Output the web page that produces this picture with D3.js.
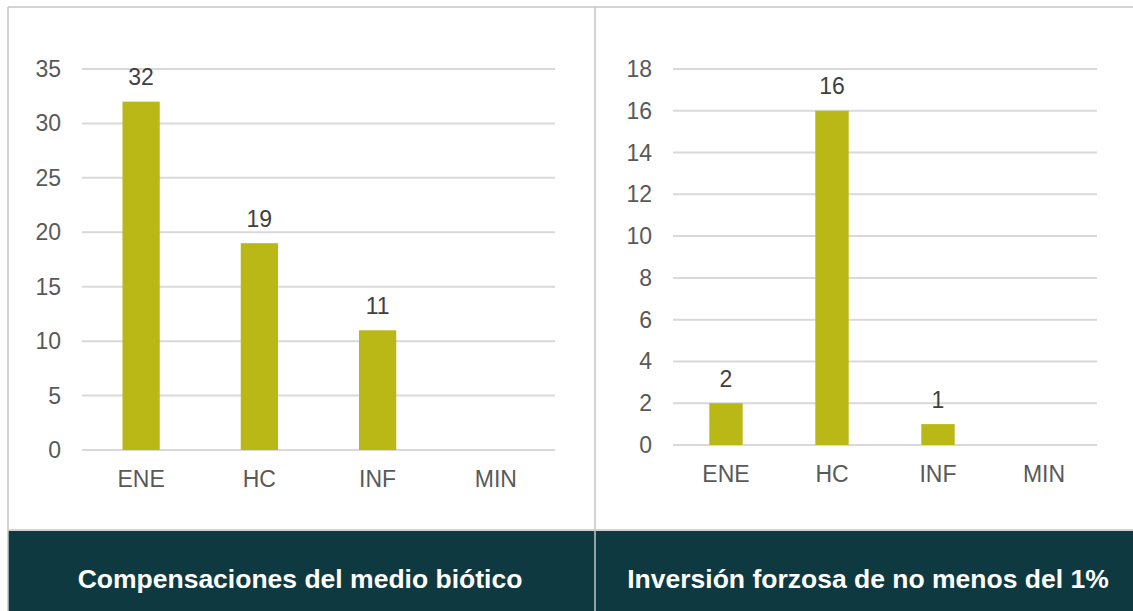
<!DOCTYPE html>
<html>
<head>
<meta charset="utf-8">
<script src="https://cdn.jsdelivr.net/npm/d3@7"></script>
<style>
  body { margin: 0; background: #fff; }
  text { font-family: "Liberation Sans", Arial, sans-serif; }
</style>
</head>
<body>
<div class="canvas"></div>
<script>
// data
const categories = ['ENE', 'HC', 'INF', 'MIN'];
const compValues = [32, 19, 11, 0];
const invValues = [2, 16, 1, 0];
const compTicks = [0, 5, 10, 15, 20, 25, 30, 35];
const invTicks = [0, 2, 4, 6, 8, 10, 12, 14, 16, 18];
const titles = ['Compensaciones del medio biótico', 'Inversión forzosa de no menos del 1%'];

const W = 1133, H = 611;
const barColor = '#bab817';
const gridColor = '#d9d9d9';
const textColor = '#595959';
const bandColor = '#0f3940';
const borderColor = '#c4c4c4';

const svg = d3.select('.canvas')
  .append('svg')
  .attr('width', W)
  .attr('height', H);

// panels: left x 8..595, right 595..1133
const panels = [
  { x0: 8, x1: 595, left: 82, right: 555, top: 69, bottom: 450, values: compValues, ticks: compTicks, labelX: 61, titleX: 300, title: titles[0] },
  { x0: 595, x1: 1133, left: 673, right: 1097, top: 69, bottom: 445, values: invValues, ticks: invTicks, labelX: 652, titleX: 868, title: titles[1] }
];

const drawPanel = (p) => {
  const g = svg.append('g');

  const x = d3.scaleBand()
    .domain(categories)
    .range([p.left, p.right]);

  const y = d3.scaleLinear()
    .domain([0, d3.max(p.ticks)])
    .range([p.bottom, p.top]);

  // gridlines
  g.selectAll('line.grid')
    .data(p.ticks)
    .enter().append('line')
    .attr('class', 'grid')
    .attr('x1', p.left).attr('x2', p.right)
    .attr('y1', d => y(d)).attr('y2', d => y(d))
    .attr('stroke', gridColor)
    .attr('stroke-width', 2);

  // y tick labels
  g.selectAll('text.ytick')
    .data(p.ticks)
    .enter().append('text')
    .attr('class', 'ytick')
    .attr('x', p.labelX)
    .attr('y', d => y(d))
    .attr('dy', '0.35em')
    .attr('text-anchor', 'end')
    .attr('font-size', 23)
    .attr('fill', textColor)
    .text(d => d);

  // bars
  const bw = x.step() * 0.315;
  const data = categories.map((c, i) => ({ cat: c, val: p.values[i] }));
  g.selectAll('rect.bar')
    .data(data)
    .enter().append('rect')
    .attr('class', 'bar')
    .attr('x', d => x(d.cat) + x.bandwidth() / 2 - bw / 2)
    .attr('width', bw)
    .attr('y', d => y(d.val))
    .attr('height', d => y(0) - y(d.val))
    .attr('fill', barColor);

  // value labels (zero not shown)
  g.selectAll('text.val')
    .data(data.filter(d => d.val > 0))
    .enter().append('text')
    .attr('class', 'val')
    .attr('x', d => x(d.cat) + x.bandwidth() / 2)
    .attr('y', d => y(d.val) - 16.5)
    .attr('text-anchor', 'middle')
    .attr('font-size', 23)
    .attr('fill', '#404040')
    .text(d => d.val);

  // category labels
  g.selectAll('text.cat')
    .data(categories)
    .enter().append('text')
    .attr('class', 'cat')
    .attr('x', d => x(d) + x.bandwidth() / 2)
    .attr('y', p.bottom + 36.5)
    .attr('text-anchor', 'middle')
    .attr('font-size', 23)
    .attr('fill', textColor)
    .text(d => d);

  // title band
  g.append('rect')
    .attr('x', p.x0).attr('y', 531)
    .attr('width', p.x1 - p.x0).attr('height', H - 531)
    .attr('fill', bandColor);

  g.append('text')
    .attr('x', p.titleX)
    .attr('y', 587.5)
    .attr('text-anchor', 'middle')
    .attr('font-size', 26.5)
    .attr('font-weight', 'bold')
    .attr('fill', '#fff')
    .text(p.title);
};

panels.forEach(drawPanel);

// frame lines
const frame = svg.append('g')
  .attr('stroke', borderColor)
  .attr('stroke-width', 1.5);
frame.append('line').attr('x1', 8).attr('x2', W).attr('y1', 7).attr('y2', 7);
frame.append('line').attr('x1', 8).attr('x2', 8).attr('y1', 7).attr('y2', H);
frame.append('line').attr('x1', 595).attr('x2', 595).attr('y1', 7).attr('y2', H);
frame.append('line').attr('x1', 8).attr('x2', W).attr('y1', 530).attr('y2', 530);
</script>
</body>
</html>
